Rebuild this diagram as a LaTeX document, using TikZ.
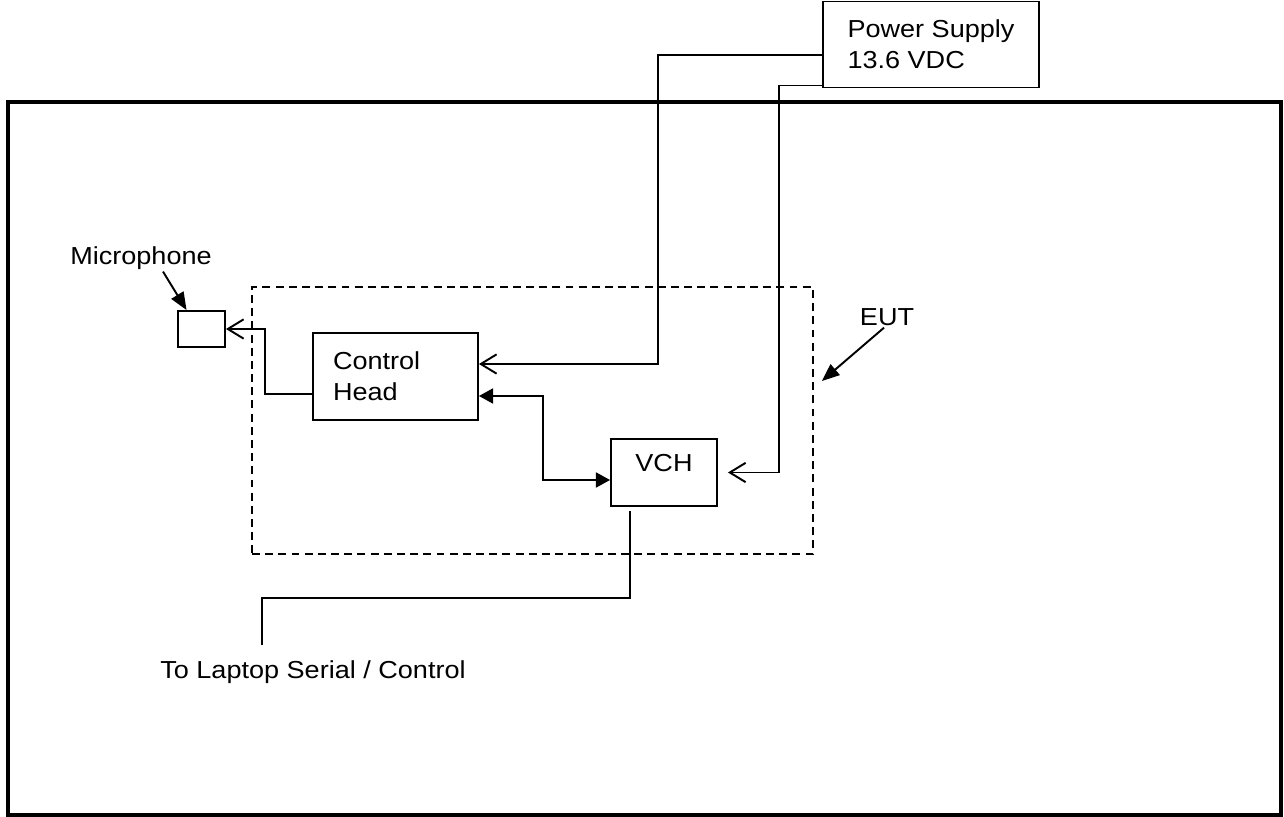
\documentclass[tikz,border=0pt]{standalone}
\usepackage{fontspec}
\setmainfont{Liberation Sans}[FakeStretch=1.1]
\usetikzlibrary{arrows.meta,positioning}
\tikzset{
  unit/.style={
    rectangle,
    draw=black,
    line width=1.1pt,
    align=center,
    font=\fontsize{14}{17.5}\selectfont
  },
  tag/.style={font=\fontsize{14}{17.5}\selectfont, inner sep=1pt},
  wire/.style={line width=1.1pt},
  feed/.style={-{Straight Barb[length=9pt,width=11pt]}, line width=1.1pt},
  link/.style={{Triangle[length=8pt,width=8.5pt]}-{Triangle[length=8pt,width=8.5pt]}, line width=1.1pt},
  pointer/.style={-{Triangle[length=10pt,width=8pt]}, line width=1.1pt},
  boundary/.style={draw=black, line width=1.1pt, dash pattern=on 4.5pt off 3pt}
}
\begin{document}
\begin{tikzpicture}[x=0.02cm, y=-0.02cm]
  \useasboundingbox (0,0) rectangle (1284,817);
  % test enclosure
  \draw[line width=2pt] (8,102) rectangle (1281,815);

  \node[unit, align=left, minimum width=4.32cm, minimum height=1.72cm] (ps) at (931,44.5) {Power Supply\\13.6 VDC};
  \node[boundary, minimum width=11.22cm, minimum height=5.34cm] (eut) at (532.5,420.5) {};
  \node[unit, minimum width=0.94cm, minimum height=0.72cm] (mic) at (201.5,329) {};
  \node[unit, align=left, text width=2.5cm, inner xsep=0.4cm, minimum height=1.74cm] (head) at (395.5,376.5) {Control\\Head};
  \node[unit, minimum width=2.12cm, minimum height=1.34cm, text depth=0.4cm] (vch) at (664,472.5) {VCH};

  \node[tag] (miclabel) at (141,258) {Microphone};
  \node[tag] (eutlabel) at (887,317) {EUT};
  \node[tag] (laptop) at (313,672) {To Laptop Serial / Control};
  \coordinate (lapend) at (262,645);

  \draw[feed] ([yshift=-0.21cm]ps.west) -- ++(-164,0) |- ([yshift=0.25cm]head.east);
  \draw[feed, shorten >=0.2cm] ([yshift=-0.82cm]ps.west) -- ++(-43,0) |- (vch.east);
  \draw[feed] ([yshift=-0.35cm]head.west) -- ++(-47,0) |- (mic.east);
  \draw[link] ([yshift=-0.39cm]head.east) -- ++(64,0) |- ([yshift=-0.15cm]vch.west);
  \draw[wire] ([xshift=-0.68cm,yshift=-0.08cm]vch.south) -- ++(0,87) -| (lapend);

  \draw[pointer] ([xshift=0.44cm]miclabel.south) -- ([xshift=0.19cm]mic.north west);
  \draw[pointer] ([xshift=-0.06cm]eutlabel.south) -- ([xshift=0.16cm,yshift=0.79cm]eut.east);
\end{tikzpicture}
\end{document}
